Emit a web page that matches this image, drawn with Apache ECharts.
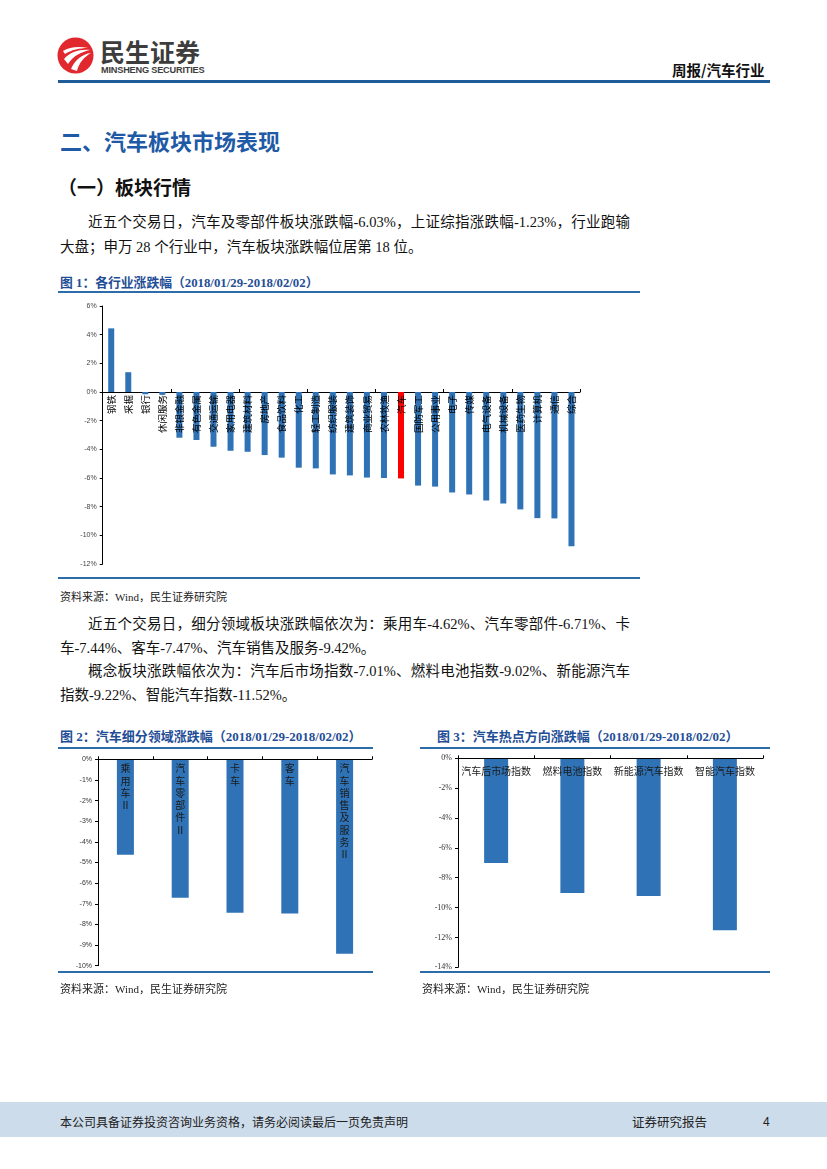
<!DOCTYPE html>
<html>
<head>
<meta charset="utf-8">
<script src="https://cdn.jsdelivr.net/npm/echarts@6/dist/echarts.min.js"></script>
<style>
  html, body { margin:0; padding:0; background:#fff; }
  body { width:827px; height:1169px; position:relative; overflow:hidden; font-family:"Liberation Serif","Noto Sans CJK SC",serif; }
  .abs { position:absolute; white-space:nowrap; }
  .line { position:absolute; background:#2c6ca8; }
  .para { position:absolute; font-size:14.5px; color:#111; height:20px; line-height:20px; white-space:nowrap; }
  .just { text-align:justify; text-align-last:justify; }
  .figt { position:absolute; font-size:13px; font-weight:bold; color:#1f4e96; height:16px; line-height:16px; white-space:nowrap; }
  .src { position:absolute; font-size:11px; color:#222; height:14px; line-height:14px; white-space:nowrap; }
  .chart { position:absolute; }
</style>
</head>
<body>
<!-- header -->
<svg class="abs" style="left:57px;top:37px" width="37" height="37" viewBox="0 0 37 37">
  <circle cx="18.5" cy="18.5" r="18" fill="#e2282f"/>
  <path d="M6 14 C12 10, 22 9, 31 11 C23 11, 14 13, 8 17 Z" fill="#fff"/>
  <path d="M7 22 C13 15, 23 12, 33 13 C24 15, 16 19, 11 27 Z" fill="#fff"/>
  <path d="M14 32 C18 23, 25 17, 34 16 C27 20, 22 26, 20 34 Z" fill="#fff"/>
</svg>
<div class="abs" style="left:100px;top:37px;font-family:'Noto Sans CJK SC';font-weight:bold;font-size:25px;line-height:28px;color:#3d3d3d">民生证券</div>
<div class="abs" style="left:101px;top:65px;font-family:'Liberation Sans';font-weight:bold;font-size:9.2px;line-height:11px;color:#3d3d3d;letter-spacing:-0.2px">MINSHENG SECURITIES</div>
<div class="abs" style="left:672px;top:61px;font-family:'Noto Sans CJK SC';font-weight:bold;font-size:14.5px;line-height:18px;color:#111">周报/汽车行业</div>
<div class="line" style="left:58px;top:80px;width:712px;height:2.5px;background:#1f5c99"></div>

<!-- section titles -->
<div class="abs" style="left:60px;top:126px;font-family:'Noto Sans CJK SC';font-weight:bold;font-size:22px;line-height:28px;color:#1f5aa6">二、汽车板块市场表现</div>
<div class="abs" style="left:58px;top:175px;font-family:'Noto Sans CJK SC';font-weight:bold;font-size:19px;line-height:24px;color:#111">（一）板块行情</div>

<div class="para just" style="left:88px;top:212px;width:542px">近五个交易日，汽车及零部件板块涨跌幅-6.03%，上证综指涨跌幅-1.23%，行业跑输</div>
<div class="para" style="left:60px;top:237px">大盘；申万 28 个行业中，汽车板块涨跌幅位居第 18 位。</div>

<!-- figure 1 -->
<div class="figt" style="left:60px;top:275px;font-size:12.8px">图 1：各行业涨跌幅（2018/01/29-2018/02/02）</div>
<div class="line" style="left:58px;top:291px;width:582px;height:1.5px"></div>
<div id="c1" class="chart" style="left:58px;top:298px;width:582px;height:278px"></div>
<div class="line" style="left:58px;top:577px;width:582px;height:2px"></div>
<div class="src" style="left:60px;top:590px">资料来源：Wind，民生证券研究院</div>

<div class="para just" style="left:88px;top:614px;width:542px">近五个交易日，细分领域板块涨跌幅依次为：乘用车-4.62%、汽车零部件-6.71%、卡</div>
<div class="para" style="left:60px;top:638px">车-7.44%、客车-7.47%、汽车销售及服务-9.42%。</div>
<div class="para just" style="left:88px;top:661px;width:542px">概念板块涨跌幅依次为：汽车后市场指数-7.01%、燃料电池指数-9.02%、新能源汽车</div>
<div class="para" style="left:60px;top:685px">指数-9.22%、智能汽车指数-11.52%。</div>

<!-- figure 2 -->
<div class="figt" style="left:60px;top:729px">图 2：汽车细分领域涨跌幅（2018/01/29-2018/02/02）</div>
<div class="line" style="left:58px;top:747px;width:315px;height:1.5px"></div>
<div id="c2" class="chart" style="left:58px;top:752px;width:316px;height:220px"></div>
<div class="line" style="left:58px;top:971px;width:315px;height:2px"></div>
<div class="src" style="left:60px;top:982px">资料来源：Wind，民生证券研究院</div>

<!-- figure 3 -->
<div class="figt" style="left:437px;top:729px">图 3：汽车热点方向涨跌幅（2018/01/29-2018/02/02）</div>
<div class="line" style="left:420px;top:747px;width:350px;height:1.5px"></div>
<div id="c3" class="chart" style="left:420px;top:752px;width:350px;height:220px"></div>
<div class="line" style="left:420px;top:971px;width:350px;height:2px"></div>
<div class="src" style="left:422px;top:982px">资料来源：Wind，民生证券研究院</div>

<!-- footer -->
<div class="abs" style="left:0;top:1102px;width:827px;height:35px;background:#cddcea"></div>
<div class="abs" style="left:60px;top:1113px;font-family:'Noto Sans CJK SC';font-size:12px;line-height:18px;color:#222">本公司具备证券投资咨询业务资格，请务必阅读最后一页免责声明</div>
<div class="abs" style="left:632px;top:1113px;font-family:'Noto Sans CJK SC';font-size:12.5px;line-height:18px;color:#222">证券研究报告</div>
<div class="abs" style="left:763px;top:1113px;font-family:'Liberation Sans';font-size:12px;line-height:18px;color:#222">4</div>

<script>
// ---- Figure 1 data ----
const industryNames = ['钢铁','采掘','银行','休闲服务','非银金融','有色金属','交通运输','家用电器','建筑材料','房地产',
  '食品饮料','化工','轻工制造','纺织服装','建筑装饰','商业贸易','农林牧渔','汽车','国防军工','公用事业',
  '电子','传媒','电气设备','机械设备','医药生物','计算机','通信','综合'];
const industryChange = [4.44, 1.38, -0.16, -0.2, -3.19, -3.35, -3.82, -4.1, -4.17, -4.4,
  -4.58, -5.28, -5.33, -5.75, -5.82, -5.97, -6.0, -6.03, -6.53, -6.6,
  -7.01, -7.15, -7.57, -7.78, -8.19, -8.8, -8.82, -10.76];
const axis1Min = -12, axis1Max = 6, axis1Step = 2;

// ---- Figure 2 data ----
const segmentNames = ['乘用车Ⅱ','汽车零部件Ⅱ','卡车','客车','汽车销售及服务Ⅱ'];
const segmentChange = [-4.62, -6.71, -7.44, -7.47, -9.42];
const axis2Min = -10, axis2Max = 0, axis2Step = 1;

// ---- Figure 3 data ----
const themeNames = ['汽车后市场指数','燃料电池指数','新能源汽车指数','智能汽车指数'];
const themeChange = [-7.01, -9.02, -9.22, -11.52];
const axis3Min = -14, axis3Max = 0, axis3Step = 2;

const BLUE = '#2f72b5';
const HIGHLIGHT = '汽车';

// Figure 1: main grid + a label grid that starts at the zero line
const c1H = 278, c1Top = 8, c1Bottom = 12;
const plot1H = c1H - c1Top - c1Bottom;
const zeroTop = c1Top + (axis1Max - 0) / (axis1Max - axis1Min) * plot1H;

const c1 = echarts.init(document.getElementById('c1'));
c1.setOption({
  animation:false,
  grid:[
    {left:44.7, right:60, top:c1Top, bottom:c1Bottom},
    {left:44.7, right:60, top:zeroTop, bottom:c1Bottom}
  ],
  xAxis:[{
    gridIndex:0, type:'category', data:industryNames,
    axisLine:{onZero:true, lineStyle:{color:'#000', width:1}},
    axisTick:{show:true, inside:true, length:3, lineStyle:{color:'#000'}},
    axisLabel:{show:false}
  },{
    gridIndex:1, type:'category', data:industryNames, position:'top', z:10,
    axisLine:{show:false}, axisTick:{show:false},
    axisLabel:{inside:true, interval:0, rotate:90, fontSize:9.5, color:'#000', margin:3, fontFamily:'Noto Sans CJK SC'}
  }],
  yAxis:[{
    gridIndex:0, type:'value', min:axis1Min, max:axis1Max, interval:axis1Step,
    axisLine:{show:true, lineStyle:{color:'#000'}},
    axisTick:{show:true, length:3, lineStyle:{color:'#000'}},
    splitLine:{show:false},
    axisLabel:{formatter:'{value}%', fontSize:7, color:'#444', margin:6, fontFamily:'Liberation Sans'}
  },{
    gridIndex:1, type:'value', show:false, min:axis1Min, max:0
  }],
  series:[{type:'bar', xAxisIndex:0, yAxisIndex:0, data:industryChange, barWidth:6,
    itemStyle:{color:p => p.name === HIGHLIGHT ? '#ff0000' : BLUE}}]
});

const c2 = echarts.init(document.getElementById('c2'));
c2.setOption({
  animation:false,
  grid:{left:40, right:2, top:7.3, bottom:6.3},
  xAxis:{
    type:'category', data:segmentNames, position:'top', z:10,
    axisLine:{onZero:false, lineStyle:{color:'#000', width:1}},
    axisTick:{show:true, inside:false, length:3, lineStyle:{color:'#000'}},
    axisLabel:{inside:true, interval:0, fontSize:10, lineHeight:12.3, color:'#1a1a1a', margin:3,
      fontFamily:'Noto Sans CJK SC', formatter:v => v.split('').join('\n')}
  },
  yAxis:{
    type:'value', min:axis2Min, max:axis2Max, interval:axis2Step,
    axisLine:{show:true, lineStyle:{color:'#000'}},
    axisTick:{show:true, length:3, lineStyle:{color:'#000'}},
    splitLine:{show:false},
    axisLabel:{formatter:'{value}%', fontSize:7, color:'#333', margin:6, fontFamily:'Liberation Sans'}
  },
  series:[{type:'bar', data:segmentChange, barWidth:17, itemStyle:{color:BLUE}}]
});

const c3 = echarts.init(document.getElementById('c3'));
c3.setOption({
  animation:false,
  grid:{left:38, right:7, top:6.3, bottom:4.7},
  xAxis:{
    type:'category', data:themeNames, position:'top', z:10,
    axisLine:{onZero:false, lineStyle:{color:'#000', width:1}},
    axisTick:{show:true, inside:false, length:3, lineStyle:{color:'#000'}},
    axisLabel:{inside:true, interval:0, fontSize:10, color:'#1a1a1a', margin:8, fontFamily:'Noto Sans CJK SC'}
  },
  yAxis:{
    type:'value', min:axis3Min, max:axis3Max, interval:axis3Step,
    axisLine:{show:true, lineStyle:{color:'#000'}},
    axisTick:{show:true, length:3, lineStyle:{color:'#000'}},
    splitLine:{show:false},
    axisLabel:{formatter:'{value}%', fontSize:8, color:'#333', margin:6, fontFamily:'Liberation Serif'}
  },
  series:[{type:'bar', data:themeChange, barWidth:24, itemStyle:{color:BLUE}}]
});
</script>
</body>
</html>
